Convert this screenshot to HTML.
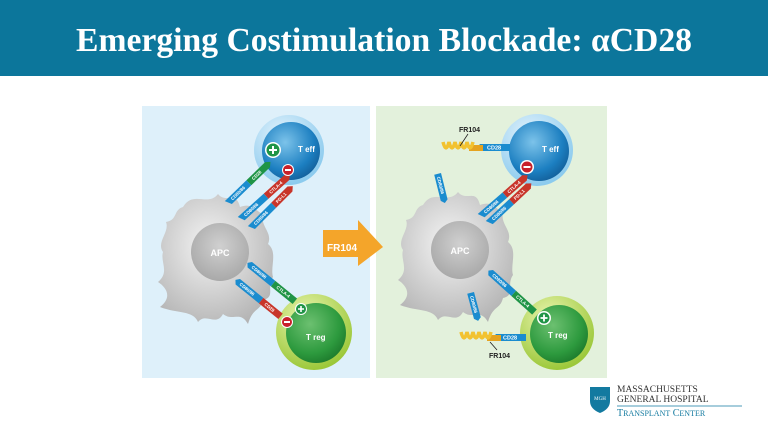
<!DOCTYPE html>
<html><head><meta charset="utf-8"><style>
html,body{margin:0;padding:0;background:#fff;}
body{width:768px;height:432px;overflow:hidden;position:relative;font-family:"Liberation Sans",sans-serif;}
</style></head><body>
<svg width="768" height="432" viewBox="0 0 768 432" xmlns="http://www.w3.org/2000/svg">
<defs>
<radialGradient id="gb" cx="0.4" cy="0.35" r="0.7"><stop offset="0" stop-color="#7cc3ea"/><stop offset="0.7" stop-color="#1c7fc1"/><stop offset="1" stop-color="#135f9a"/></radialGradient>
<radialGradient id="gbo" cx="0.4" cy="0.3" r="0.7"><stop offset="0" stop-color="#e4f3fc"/><stop offset="1" stop-color="#8ccbee"/></radialGradient>
<radialGradient id="gg" cx="0.4" cy="0.35" r="0.7"><stop offset="0" stop-color="#6cc070"/><stop offset="0.7" stop-color="#2d9a3e"/><stop offset="1" stop-color="#1d7a2c"/></radialGradient>
<radialGradient id="ggo" cx="0.4" cy="0.3" r="0.7"><stop offset="0" stop-color="#eaf5b0"/><stop offset="1" stop-color="#9cc83a"/></radialGradient>
<radialGradient id="ga" cx="0.45" cy="0.4" r="0.7"><stop offset="0" stop-color="#f5f5f5"/><stop offset="1" stop-color="#b0b0b0"/></radialGradient>
<radialGradient id="gi" cx="0.5" cy="0.4" r="0.6"><stop offset="0" stop-color="#d0d0d0"/><stop offset="1" stop-color="#a9a9a9"/></radialGradient>
<g id="blob"><path d="M -35,-45 C -25,-62 -10,-45 0,-58 C 8,-48 18,-62 22,-45 C 35,-50 38,-40 45,-38 C 42,-25 55,-20 50,-8 C 60,0 52,15 55,25 C 48,35 58,45 45,48 C 42,60 35,55 30,72 C 22,58 15,70 5,62 C -2,75 -12,60 -20,70 C -25,58 -40,62 -58,55 C -45,45 -52,35 -60,30 C -48,20 -58,10 -55,0 C -62,-10 -48,-20 -52,-30 C -40,-32 -45,-42 -35,-45 Z" fill="url(#ga)"/><circle cx="2" cy="0" r="29" fill="url(#gi)"/><text x="2" y="4" font-size="9" font-weight="bold" fill="#fff" text-anchor="middle">APC</text></g>
<g id="spring"><rect x="26" y="-3" width="14" height="6" fill="#e5a320"/><path d="M0,-6 q3,12 6,0 q3,12 6,0 q3,12 6,0 q3,12 6,0 q3,12 6,0" stroke="#f2c230" stroke-width="3.5" fill="none"/></g>
</defs>
<rect width="768" height="432" fill="#fff"/>
<rect x="0" y="0" width="768" height="76" fill="#0c769b"/>
<text x="384" y="51" font-family="'Liberation Serif',serif" font-weight="bold" font-size="34" fill="#fff" text-anchor="middle" textLength="616" lengthAdjust="spacingAndGlyphs">Emerging Costimulation Blockade: αCD28</text>

<rect x="142" y="106" width="228" height="272" fill="#def0fa"/>
<rect x="376" y="106" width="231" height="272" fill="#e3f1dc"/>

<!-- arrow -->
<polygon points="323,230 358,230 358,220 383,247 358,266 358,257 323,257" fill="#f4a52a"/>
<text x="342" y="251" font-size="10" font-weight="bold" fill="#fff" text-anchor="middle">FR104</text>

<!-- LEFT -->
<use href="#blob" x="218" y="252"/>
<circle cx="289" cy="150" r="35" fill="url(#gbo)"/><circle cx="291" cy="151" r="29" fill="url(#gb)"/>
<text x="298" y="152" font-size="8" font-weight="bold" fill="#fff">T eff</text>
<circle cx="314" cy="332" r="38" fill="url(#ggo)"/><circle cx="316" cy="333" r="30" fill="url(#gg)"/>
<text x="306" y="340" font-size="8" font-weight="bold" fill="#fff">T reg</text>

<g font-size="4.5" fill="#fff" font-weight="bold">
<g transform="translate(227,199) rotate(-44)"><polygon points="-3,0 27,0 27,7 0,7" fill="#1a8ccf"/><polygon points="27,0 53,0 57,3.5 53,7 27,7" fill="#1f9446"/><text x="3" y="5">CD80/86</text><text x="32" y="5">CD28</text></g>
<g transform="translate(240,215) rotate(-42)"><polygon points="-3,0 32,0 32,7 0,7" fill="#1a8ccf"/><polygon points="32,0 60,0 64,3.5 60,7 32,7" fill="#c8352a"/><text x="3" y="5">CD80/86</text><text x="37" y="5">CTLA-4</text></g>
<g transform="translate(250,224) rotate(-45)"><polygon points="-3,0 30,0 30,7 0,7" fill="#1a8ccf"/><polygon points="30,0 53,0 57,3.5 53,7 30,7" fill="#c8352a"/><text x="3" y="5">CD80/86</text><text x="34" y="5">PD-L1</text></g>
<g transform="translate(252,262) rotate(39)"><polygon points="-3,3.5 0,0 30,0 30,7 0,7" fill="#1a8ccf"/><polygon points="30,0 58,0 58,7 30,7" fill="#1f9446"/><text x="3" y="5">CD80/86</text><text x="35" y="5">CTLA-4</text></g>
<g transform="translate(240,279) rotate(39)"><polygon points="-3,3.5 0,0 30,0 30,7 0,7" fill="#1a8ccf"/><polygon points="30,0 55,0 55,7 30,7" fill="#c8352a"/><text x="3" y="5">CD80/86</text><text x="35" y="5">CD28</text></g>
</g>
<circle cx="273" cy="150" r="8" fill="#fff"/><circle cx="273" cy="150" r="6.5" fill="#1f9446"/><path d="M269,150h8M273,146v8" stroke="#fff" stroke-width="2"/>
<circle cx="288" cy="170" r="6" fill="#fff"/><circle cx="288" cy="170" r="5" fill="#c8202a"/><path d="M285,170h6" stroke="#fff" stroke-width="2"/>
<circle cx="301" cy="309" r="6" fill="#fff"/><circle cx="301" cy="309" r="5" fill="#1f9446"/><path d="M298,309h6M301,306v6" stroke="#fff" stroke-width="1.6"/>
<circle cx="287" cy="322" r="6" fill="#fff"/><circle cx="287" cy="322" r="5" fill="#c8202a"/><path d="M284,322h6" stroke="#fff" stroke-width="2"/>

<!-- RIGHT -->
<use href="#blob" x="458" y="250"/>
<circle cx="537" cy="150" r="36" fill="url(#gbo)"/><circle cx="539" cy="151" r="30" fill="url(#gb)"/>
<text x="542" y="152" font-size="8" font-weight="bold" fill="#fff">T eff</text>
<circle cx="557" cy="333" r="37" fill="url(#ggo)"/><circle cx="559" cy="334" r="29" fill="url(#gg)"/>
<text x="548" y="338" font-size="8" font-weight="bold" fill="#fff">T reg</text>

<g font-size="4.5" fill="#fff" font-weight="bold">
<g transform="translate(480,212) rotate(-41)"><polygon points="-3,0 30,0 30,7 0,7" fill="#1a8ccf"/><polygon points="30,0 56,0 60,3.5 56,7 30,7" fill="#c8352a"/><text x="3" y="5">CD80/86</text><text x="34" y="5">CTLA-4</text></g>
<g transform="translate(488,219) rotate(-43)"><polygon points="-3,0 29,0 29,7 0,7" fill="#1a8ccf"/><polygon points="29,0 52,0 56,3.5 52,7 29,7" fill="#c8352a"/><text x="3" y="5">CD80/86</text><text x="33" y="5">PD-L1</text></g>
<g transform="translate(441,173) rotate(76)"><polygon points="0,0 27,0 30,3.5 27,7 0,7" fill="#1a8ccf"/><text x="3" y="5">CD80/86</text></g>
<g transform="translate(474,292) rotate(75)"><polygon points="0,0 26,0 29,3.5 26,7 0,7" fill="#1a8ccf"/><text x="3" y="5">CD80/86</text></g>
<g transform="translate(493,270) rotate(42)"><polygon points="-3,3.5 0,0 31,0 31,7 0,7" fill="#1a8ccf"/><polygon points="31,0 59,0 59,7 31,7" fill="#1f9446"/><text x="3" y="5">CD80/86</text><text x="35" y="5">CTLA-4</text></g>
<g transform="translate(480,144)"><polygon points="-3,3.5 0,0 30,0 30,7 0,7" fill="#1a8ccf"/><text x="7" y="5.5" font-size="5.5">CD28</text></g>
<g transform="translate(496,334)"><polygon points="-3,3.5 0,0 30,0 30,7 0,7" fill="#1a8ccf"/><text x="7" y="5.5" font-size="5.5">CD28</text></g>
</g>
<use href="#spring" x="443" y="148"/>
<use href="#spring" x="461" y="338"/>
<line x1="468" y1="134" x2="460" y2="146" stroke="#222" stroke-width="0.8"/>
<text x="459" y="132" font-size="7" font-weight="bold" fill="#222">FR104</text>
<line x1="490" y1="342" x2="497" y2="350" stroke="#222" stroke-width="0.8"/>
<text x="489" y="358" font-size="7" font-weight="bold" fill="#222">FR104</text>
<circle cx="527" cy="167" r="7" fill="#fff"/><circle cx="527" cy="167" r="5.5" fill="#c8202a"/><path d="M523.5,167h7" stroke="#fff" stroke-width="2"/>
<circle cx="544" cy="318" r="7" fill="#fff"/><circle cx="544" cy="318" r="5.5" fill="#1f9446"/><path d="M540.5,318h7M544,314.5v7" stroke="#fff" stroke-width="1.8"/>

<!-- logo -->
<path d="M590,387 h20 v14 q0,8 -10,12 q-10,-4 -10,-12 z" fill="#137aa0"/>
<text x="600" y="400" font-family="'Liberation Serif',serif" font-size="5" fill="#fff" text-anchor="middle">MGH</text>
<text x="617" y="392" font-family="'Liberation Serif',serif" font-size="9.5" fill="#333">MASSACHUSETTS</text>
<text x="617" y="402" font-family="'Liberation Serif',serif" font-size="9.5" fill="#333">GENERAL HOSPITAL</text>
<line x1="617" y1="406" x2="742" y2="406" stroke="#137aa0" stroke-width="0.8"/>
<text x="617" y="416" font-family="'Liberation Serif',serif" font-size="10" fill="#137aa0">T<tspan font-size="8">RANSPLANT</tspan> C<tspan font-size="8">ENTER</tspan></text>
</svg>
</body></html>
